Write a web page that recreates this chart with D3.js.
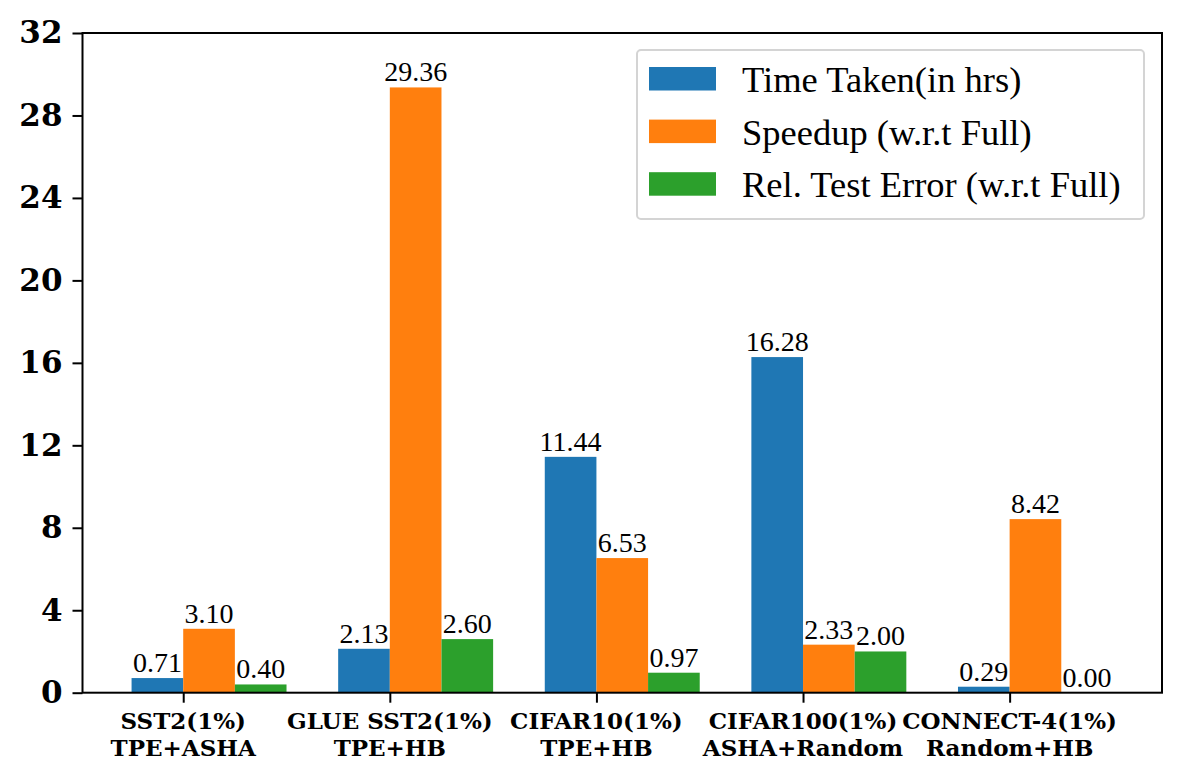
<!DOCTYPE html>
<html>
<head>
<meta charset="utf-8">
<script src="https://cdn.jsdelivr.net/npm/d3@7"></script>
<style>
  body { margin: 0; background: #fff; }
</style>
</head>
<body>
<script>
// data
var groups = ["SST2(1%)|TPE+ASHA", "GLUE SST2(1%)|TPE+HB", "CIFAR10(1%)|TPE+HB",
              "CIFAR100(1%)|ASHA+Random", "CONNECT-4(1%)|Random+HB"];
var seriesNames = ["Time Taken(in hrs)", "Speedup (w.r.t Full)", "Rel. Test Error (w.r.t Full)"];
var timeTaken = [0.71, 2.13, 11.44, 16.28, 0.29];
var speedup = [3.10, 29.36, 6.53, 2.33, 8.42];
var relError = [0.40, 2.60, 0.97, 2.00, 0.00];
var yTicks = [0, 4, 8, 12, 16, 20, 24, 28, 32];
var colors = ["#1f77b4", "#ff7f0e", "#2ca02c"];

var series = [timeTaken, speedup, relError];

var w = 1180;
var h = 780;
var barW = 0.25;

var svg = d3.select('body')
            .append('svg')
            .attr('width', w)
            .attr('height', h);

var x = d3.scaleLinear().domain([-0.4875, 4.7375]).range([82.5, 1162]);
var y = d3.scaleLinear().domain([0, 32]).range([692.7, 33]);

// bars
series.forEach((vals, s) => {
  var g = svg.append('g');
  g.selectAll('rect')
    .data(vals)
    .enter()
    .append('rect')
    .attr('x', (d, i) => x(i + (s - 1) * barW))
    .attr('y', d => y(d))
    .attr('width', x(barW) - x(0))
    .attr('height', d => y(0) - y(d))
    .attr('fill', colors[s]);

  g.selectAll('text')
    .data(vals)
    .enter()
    .append('text')
    .text(d => d.toFixed(2))
    .attr('x', (d, i) => x(i + (s - 0.5) * barW))
    .attr('y', d => y(d) - 6)
    .attr('font-family', '"Liberation Serif", serif')
    .attr('font-size', '28px')
    .attr('text-anchor', 'middle');
});

// y axis
var yAxis = svg.append('g')
  .attr('transform', 'translate(82.5,0)')
  .call(d3.axisLeft(y).tickValues(yTicks).tickSize(10).tickPadding(10).tickFormat(d3.format('d')));
yAxis.select('.domain').remove();
yAxis.selectAll('line').attr('stroke', '#000').attr('stroke-width', 2);
yAxis.selectAll('text')
  .attr('font-family', '"DejaVu Serif", serif')
  .attr('font-weight', 'bold')
  .attr('font-size', '31px')
  .attr('fill', '#000');

// x axis
var xAxis = svg.append('g')
  .attr('transform', 'translate(0,692.7)')
  .call(d3.axisBottom(x).tickValues(d3.range(groups.length)).tickSize(10).tickFormat(''));
xAxis.select('.domain').remove();
xAxis.selectAll('line').attr('stroke', '#000').attr('stroke-width', 2);

var xl = svg.append('g').selectAll('text')
  .data(groups)
  .enter()
  .append('text')
  .attr('font-family', '"DejaVu Serif", serif')
  .attr('font-weight', 'bold')
  .attr('font-size', '23px')
  .attr('text-anchor', 'middle');
xl.append('tspan')
  .attr('x', (d, i) => x(i))
  .attr('y', 729)
  .text(d => d.split('|')[0]);
xl.append('tspan')
  .attr('x', (d, i) => x(i))
  .attr('y', 756)
  .text(d => d.split('|')[1]);

// frame
svg.append('rect')
  .attr('x', 82.5)
  .attr('y', 33)
  .attr('width', 1162 - 82.5)
  .attr('height', 692.7 - 33)
  .attr('fill', 'none')
  .attr('stroke', '#000')
  .attr('stroke-width', 2);

// legend
var lg = svg.append('g');
lg.append('rect')
  .attr('x', 637)
  .attr('y', 50)
  .attr('width', 507)
  .attr('height', 169)
  .attr('rx', 4)
  .attr('fill', '#fff')
  .attr('stroke', '#d4d4d4')
  .attr('stroke-width', 2);

lg.selectAll('.sw')
  .data(seriesNames)
  .enter()
  .append('rect')
  .attr('x', 649)
  .attr('y', (d, i) => 67 + i * 52.6)
  .attr('width', 67)
  .attr('height', 23.5)
  .attr('fill', (d, i) => colors[i]);

lg.selectAll('.lt')
  .data(seriesNames)
  .enter()
  .append('text')
  .text(d => d)
  .attr('x', 742)
  .attr('y', (d, i) => 92 + i * 52.6)
  .attr('font-family', '"Liberation Serif", serif')
  .attr('font-size', '36.5px');
</script>
</body>
</html>
